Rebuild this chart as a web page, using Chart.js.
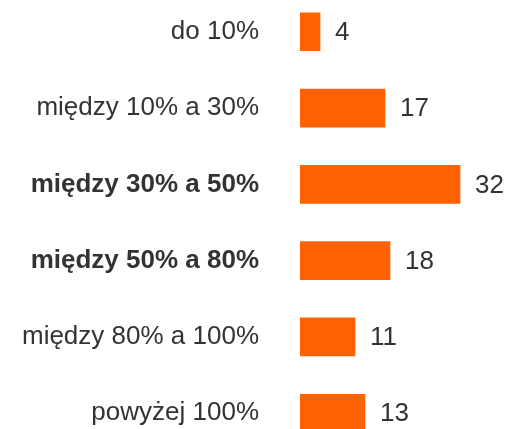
<!DOCTYPE html>
<html>
<head>
<meta charset="utf-8">
<script src="https://cdn.jsdelivr.net/npm/chart.js@4/dist/chart.umd.min.js"></script>
<style>
  html, body { margin: 0; padding: 0; background: #fff; overflow: hidden; }
  #wrap { position: relative; width: 508px; height: 429px; overflow: hidden; }
  /* canvas is taller than the page: the reference crops the last bar */
  #myChart { position: absolute; left: 0; top: -63px; }
</style>
</head>
<body>
<div id="wrap">
  <canvas id="myChart" width="508" height="571"></canvas>
</div>
<script>
'use strict';

let categories = ['do 10%', 'między 10% a 30%', 'między 30% a 50%', 'między 50% a 80%', 'między 80% a 100%', 'powyżej 100%'];
let values = [4, 17, 32, 18, 11, 13];
let boldCategories = ['między 30% a 50%', 'między 50% a 80%'];

let orange = '#FF6200';
let textColor = '#333333';
let fontFamily = '"Liberation Sans", Arial, sans-serif';

// writes the number just right of each bar
let valueLabels = {
  id: 'valueLabels',
  afterDatasetsDraw(chart) {
    let ctx = chart.ctx;
    let meta = chart.getDatasetMeta(0);
    ctx.save();
    ctx.font = '26px ' + fontFamily;
    ctx.fillStyle = textColor;
    ctx.textAlign = 'left';
    ctx.textBaseline = 'middle';
    meta.data.forEach(function (bar, i) {
      ctx.fillText(String(values[i]), bar.x + 15, bar.y + 1);
    });
    ctx.restore();
  }
};

const data = {
  labels: categories,
  datasets: [
    {
      data: values,
      backgroundColor: orange,
      borderWidth: 0,
      barThickness: 38
    }
  ]
};

const config = {
  type: 'bar',
  data: data,
  options: {
    indexAxis: 'y',
    responsive: false,
    animation: false,
    layout: { padding: 0 },
    plugins: {
      legend: { display: false },
      tooltip: { enabled: false }
    },
    scales: {
      x: {
        display: false,
        min: 0,
        max: 41.6
      },
      y: {
        border: { display: false },
        grid: { display: false, drawTicks: false },
        afterFit: function (scale) { scale.width = 300; },
        ticks: {
          padding: 41,
          color: textColor,
          font: function (c) {
            let isBold = boldCategories.includes(categories[c.index]);
            return { family: fontFamily, size: 26, weight: isBold ? 'bold' : 'normal' };
          }
        }
      }
    }
  },
  plugins: [valueLabels]
};

const myChart = new Chart(document.getElementById('myChart'), config);
</script>
</body>
</html>
